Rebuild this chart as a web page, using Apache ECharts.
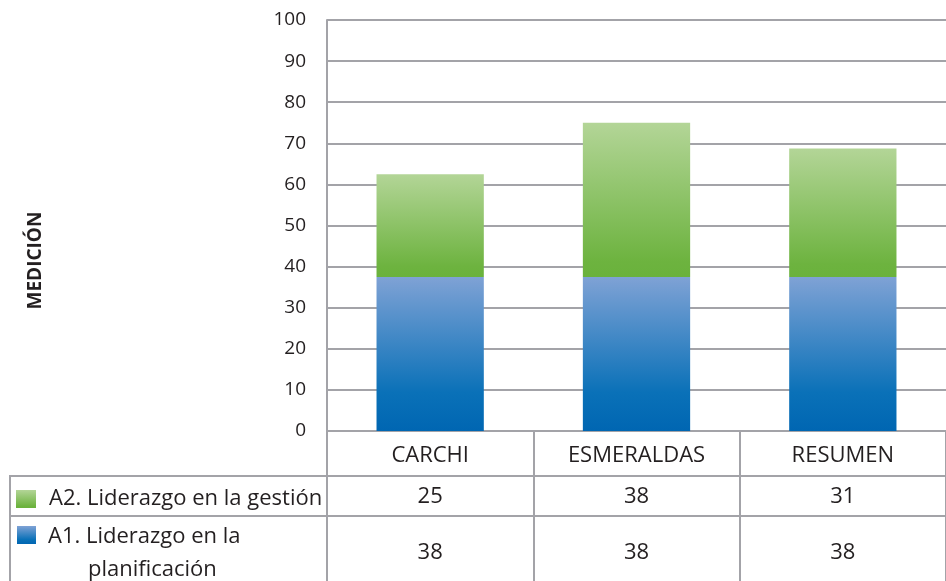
<!DOCTYPE html>
<html>
<head>
<meta charset="utf-8">
<script src="https://cdn.jsdelivr.net/npm/echarts@6/dist/echarts.min.js"></script>
<style>
  html, body { margin: 0; padding: 0; background: #fff; }
  #chart { width: 946px; height: 581px; }
</style>
</head>
<body>
<div id="chart"></div>
<script>
// data
const categories = ['CARCHI', 'ESMERALDAS', 'RESUMEN'];
const a1Name = 'A1. Liderazgo en la planificación';
const a2Name = 'A2. Liderazgo en la gestión';
const a1Values = [37.5, 37.5, 37.5];
const a2Values = [25, 37.5, 31.25];
const yMin = 0;
const yMax = 100;
const yStep = 10;

const FONT = 'Open Sans';
const TEXT = '#231f20';
const GRID = '#a3a3a8';

const grad = (stops) => new echarts.graphic.LinearGradient(0, 0, 0, 1,
  stops.map(([offset, color]) => ({ offset, color })));

const greenFill = grad([[0, '#b3d597'], [0.9, '#6db33f'], [1, '#6ab23c']]);
const blueFill = grad([[0, '#7fa2d5'], [0.75, '#0a71b8'], [1, '#0066b2']]);

const chart = echarts.init(document.getElementById('chart'), null, { renderer: 'canvas' });

chart.setOption({
  animation: false,
  backgroundColor: '#fff',
  textStyle: { fontFamily: FONT },
  grid: { left: 327, right: -4, top: 20, bottom: 150, containLabel: false },
  legend: [
    {
      data: [a2Name],
      icon: 'rect',
      left: 16, top: 488, padding: 0,
      itemWidth: 20, itemHeight: 18,
      selectedMode: false,
      textStyle: { fontFamily: FONT, fontSize: 22, color: TEXT, padding: [0, 0, 0, 8] }
    },
    {
      data: [a1Name],
      icon: 'rect',
      left: 17, top: 526, padding: 0,
      itemWidth: 19, itemHeight: 18,
      selectedMode: false,
      formatter: (name) => {
        const parts = name.split(' ');
        const last = parts.pop();
        return '{a|' + parts.join(' ') + '}\n{b|' + last + '}';
      },
      textStyle: {
        fontFamily: FONT, fontSize: 22, color: TEXT, padding: [37, 0, 0, 7],
        rich: {
          a: { fontFamily: FONT, fontSize: 22, color: TEXT, lineHeight: 33 },
          b: { fontFamily: FONT, fontSize: 22, color: TEXT, lineHeight: 33, padding: [0, 0, 0, 40] }
        }
      }
    }
  ],
  graphic: [
    { type: 'line', shape: { x1: 10, y1: 476, x2: 946, y2: 476 }, style: { stroke: GRID, lineWidth: 2 } },
    { type: 'line', shape: { x1: 10, y1: 516, x2: 946, y2: 516 }, style: { stroke: GRID, lineWidth: 2 } },
    { type: 'line', shape: { x1: 10, y1: 475, x2: 10, y2: 581 }, style: { stroke: GRID, lineWidth: 2 } }
  ],
  xAxis: {
    type: 'category',
    data: categories,
    axisLine: { show: true, lineStyle: { color: GRID, width: 2 } },
    axisTick: { show: true, interval: 0, length: 150, lineStyle: { color: GRID, width: 2 } },
    axisLabel: {
      interval: 0,
      margin: 0,
      formatter: (value, idx) =>
        '{c|' + value + '}\n{v|' + Math.round(a2Values[idx]) + '}\n{w|' + Math.round(a1Values[idx]) + '}',
      rich: {
        c: { fontFamily: FONT, fontSize: 22, color: TEXT, lineHeight: 50 },
        v: { fontFamily: FONT, fontSize: 22, color: TEXT, lineHeight: 32 },
        w: { fontFamily: FONT, fontSize: 22, color: TEXT, lineHeight: 80 }
      }
    }
  },
  yAxis: {
    type: 'value',
    min: yMin, max: yMax, interval: yStep,
    name: 'MEDICIÓN',
    nameLocation: 'middle',
    nameRotate: 90,
    nameGap: 282,
    nameTextStyle: { fontFamily: FONT, fontSize: 19, fontWeight: 'bold', color: TEXT, padding: [0, 70, 0, 0] },
    axisLine: { show: true, lineStyle: { color: GRID, width: 2 } },
    axisTick: { show: false },
    splitLine: { show: true, lineStyle: { color: GRID, width: 2 } },
    axisLabel: { fontFamily: FONT, fontSize: 19, color: TEXT, margin: 21 }
  },
  series: [
    {
      name: a1Name, type: 'bar', stack: 'total', barWidth: '52%',
      itemStyle: { color: blueFill },
      data: a1Values
    },
    {
      name: a2Name, type: 'bar', stack: 'total', barWidth: '52%',
      itemStyle: { color: greenFill },
      data: a2Values
    }
  ]
});
</script>
</body>
</html>
